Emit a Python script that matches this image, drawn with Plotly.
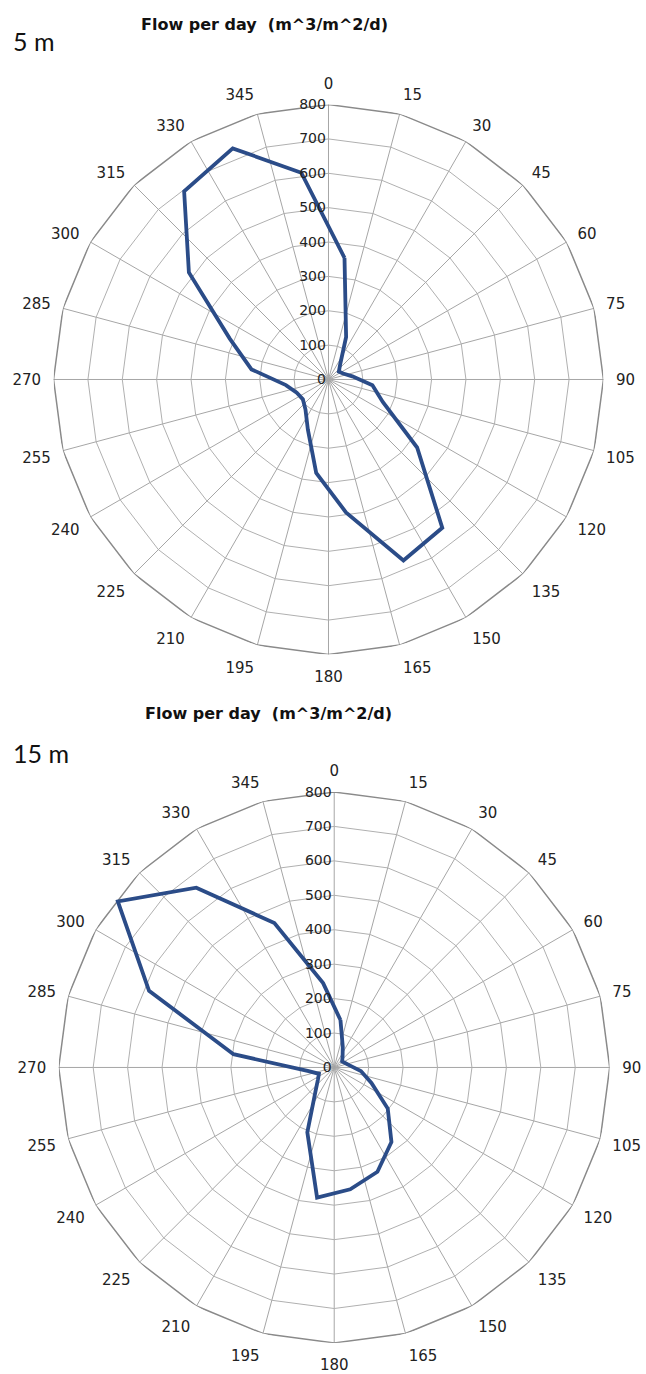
import plotly.graph_objects as go

# Direction labels (degrees) and the bin centres the flow values belong to
directions = list(range(0, 360, 15))
bin_centres = [d + 7.5 for d in directions]

# Flow per day (m^3/m^2/d) per direction bin
flow_5m = [357, 134, 56, 38, 46, 70, 129, 171, 325, 544, 570, 390,
           274, 157, 110, 94, 100, 125, 226, 311, 512, 690, 728, 607]
flow_15m = [139, 65, 40, 29, 34, 45, 78, 117, 196, 273, 328, 357,
            381, 204, 90, 60, 48, 78, 295, 582, 792, 658, 454, 247]

radial_ticks = list(range(0, 900, 100))
ring_levels = list(range(100, 900, 100))

title_text = "Flow per day\u00a0\u00a0(m^3/m^2/d)"
depth_labels = ["5 m", "15 m"]

LINE_BLUE = "#2B4C88"
GRID = "#B0B0B0"
OUTER = "#8A8A8A"
LABEL_FONT = "DejaVu Sans"

fig = go.Figure()

panels = [
    ("polar", flow_5m, [0.0828, 0.9342], [0.5237, 0.9239]),
    ("polar2", flow_15m, [0.0909, 0.9438], [0.0226, 0.4236]),
]

ring_theta = directions + [360]
for key, values, xdom, ydom in panels:
    sub = key
    # polygonal rings of the radar grid
    for lvl in ring_levels:
        fig.add_trace(go.Scatterpolar(
            r=[lvl] * len(ring_theta), theta=ring_theta, mode="lines",
            line=dict(color=OUTER if lvl == 800 else GRID,
                      width=1.5 if lvl == 800 else 1),
            hoverinfo="skip", showlegend=False, subplot=sub))
    # flow polygon, closed back to the first bin
    fig.add_trace(go.Scatterpolar(
        r=values + values[:1], theta=bin_centres + bin_centres[:1],
        mode="lines", line=dict(color=LINE_BLUE, width=3.8),
        showlegend=False, subplot=sub))
    fig.layout[key] = dict(
        domain=dict(x=xdom, y=ydom),
        bgcolor="white",
        radialaxis=dict(range=[0, 800], tickvals=radial_ticks,
                        ticktext=[str(v) for v in radial_ticks],
                        showgrid=False, showline=False, ticks="",
                        angle=90, side="counterclockwise", tickangle=90,
                        tickfont=dict(family=LABEL_FONT, size=14, color="#222")),
        angularaxis=dict(tickvals=directions,
                         ticktext=[str(d) for d in directions],
                         rotation=90, direction="clockwise",
                         showgrid=True, gridcolor="#A6A6A6", gridwidth=1,
                         showline=False, ticks="outside", ticklen=9,
                         tickcolor="rgba(0,0,0,0)",
                         tickfont=dict(family=LABEL_FONT, size=15, color="#222")),
    )

annotations = [
    dict(text="<b>" + title_text + "</b>", x=264, y=25),
    dict(text="<b>" + title_text + "</b>", x=268, y=713),
]
anns = []
for a in annotations:
    anns.append(dict(text=a["text"], x=a["x"] / 646, y=1 - a["y"] / 1374,
                     xref="paper", yref="paper", showarrow=False,
                     xanchor="center", yanchor="middle",
                     font=dict(family=LABEL_FONT, size=16, color="#111")))
for label, ypix in zip(depth_labels, [41, 753]):
    anns.append(dict(text=label, x=11 / 646, y=1 - ypix / 1374,
                     xref="paper", yref="paper", showarrow=False,
                     xanchor="left", yanchor="middle",
                     font=dict(family="Lato", size=25, color="#111")))

fig.update_layout(width=646, height=1374, margin=dict(l=0, r=0, t=0, b=0),
                  paper_bgcolor="white", annotations=anns, showlegend=False)

fig.write_html("out.html")
